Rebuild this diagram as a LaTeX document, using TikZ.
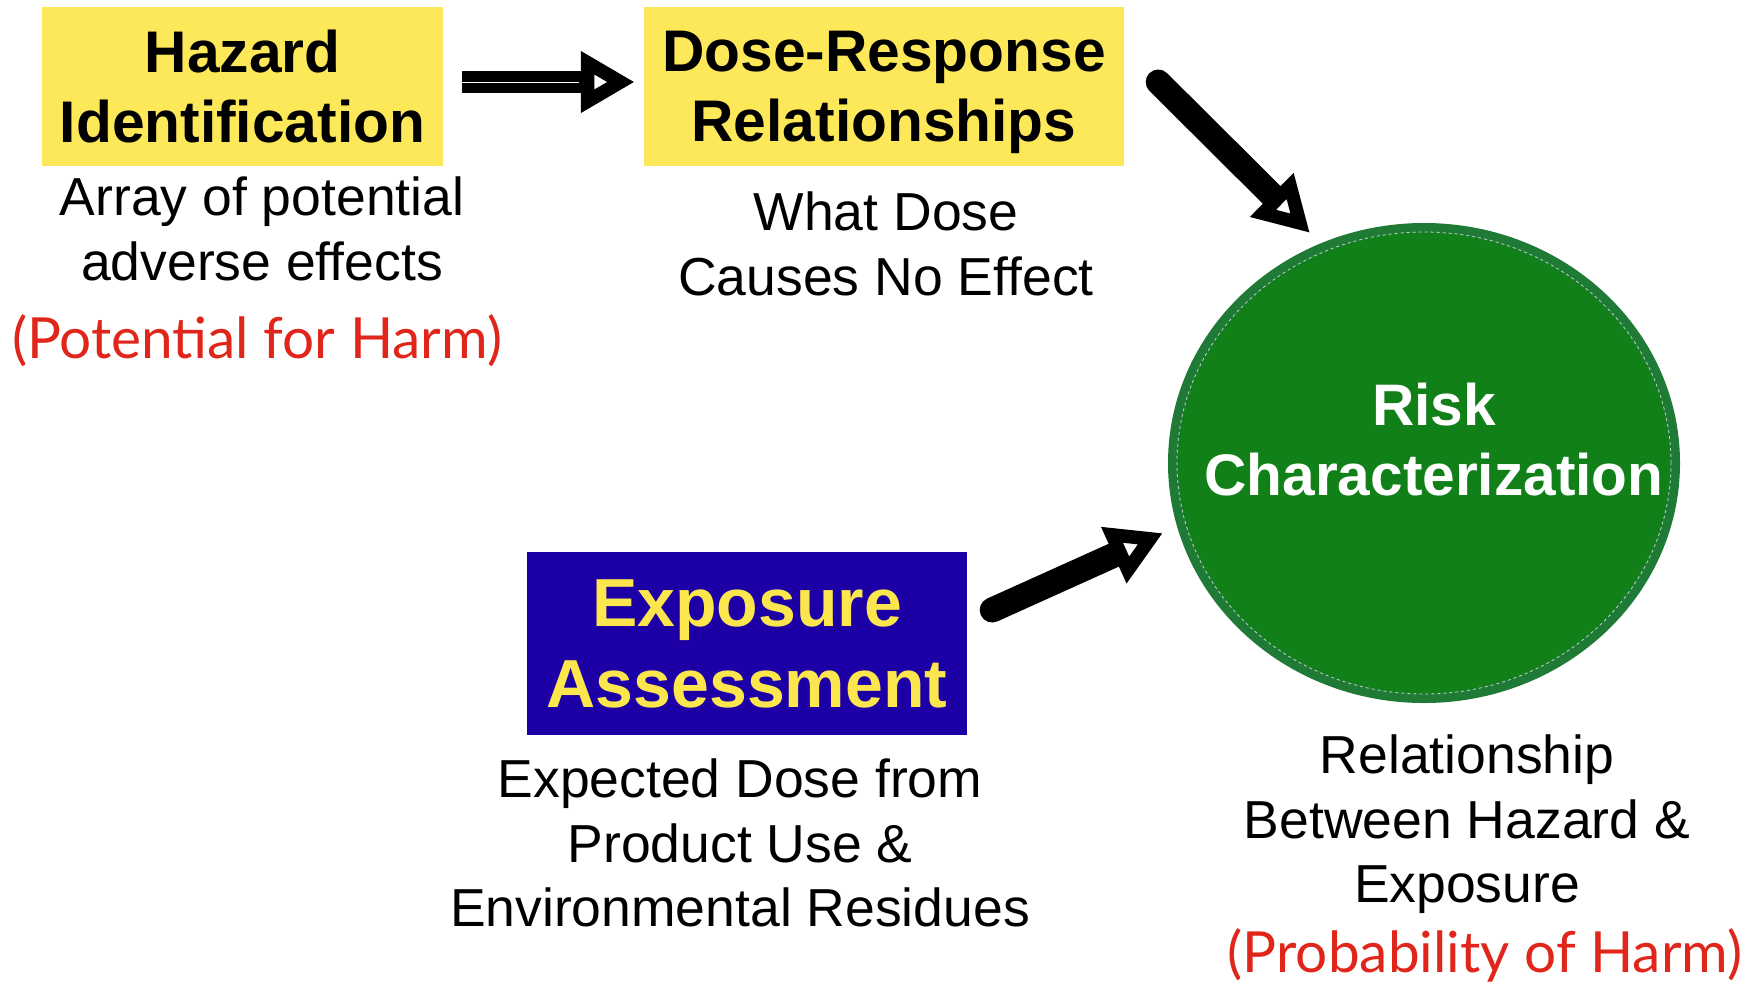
\documentclass[tikz,border=0pt]{standalone}
\usepackage{fontspec}
\setmainfont{Liberation Sans}
\newfontfamily\redfont{Lato}
\usetikzlibrary{arrows.meta,shapes.geometric}
\definecolor{boxyellow}{HTML}{FDE85A}
\definecolor{expblue}{HTML}{1C00A6}
\definecolor{expyellow}{HTML}{FCE64E}
\definecolor{circfill}{HTML}{118019}
\definecolor{circline}{HTML}{1E7A35}
\definecolor{harmred}{HTML}{E0261A}
\begin{document}
\begin{tikzpicture}[x=1pt,y=-1pt,
  ybox/.style={fill=boxyellow, inner sep=0pt, align=center,
    font=\fontsize{58.7}{70}\selectfont\bfseries},
  bbox/.style={fill=expblue, text=expyellow, inner sep=0pt, align=center,
    font=\fontsize{68}{81}\selectfont\bfseries},
  riskc/.style={ellipse, fill=circfill, draw=circline, line width=10pt, inner sep=0pt,
    minimum width=502pt, minimum height=470pt},
  riskinner/.style={draw=white!70!circfill, line width=0.8pt, dashed},
  risktext/.style={text=white, align=center, font=\fontsize{58.6}{70}\selectfont\bfseries},
  desc/.style={align=center, inner sep=0pt, font=\fontsize{53.5}{64.5}\selectfont},
  harm/.style={text=harmred, inner sep=0pt, font=\redfont\fontsize{56.7}{64}\selectfont},
  fatarrow/.style={line width=22pt, -{Triangle[fill=white, length=54pt, width=58pt, line width'=14pt]}},
  roundarrow/.style={fatarrow, line width=25pt, line cap=round},
  shaftline/.style={white, line width=1pt}
]
\useasboundingbox (0,0) rectangle (1758,983);

\node[ybox, minimum width=401pt, minimum height=159pt] (haz) at (242.5,86.5) {Hazard\\Identification};
\node[ybox, minimum width=480pt, minimum height=159pt] (dose) at (884,86.5) {Dose-Response\\\raisebox{0pt}[\height][0pt]{Relationships}};
\node[bbox, minimum width=440pt, minimum height=183pt] (exp) at (747,643.5) {Exposure\\Assessment};
\node[riskc] (risk) at (1424,463) {};
\draw[riskinner] (risk.center) ellipse [x radius=247pt, y radius=231pt];
\node[risktext] (risklabel) at (1434,440) {Risk\\Characterization};

\node[desc] (hazdesc) at (262,229) {Array of potential\\adverse effects};
\node[harm] (hazharm) at (257,341) {(Potential for Harm)};
\node[desc] (dosedesc) at (886,244) {What Dose\\Causes No Effect};
\node[desc] (expdesc) at (740,843) {Expected Dose from\\Product Use \&\\Environmental Residues};
\node[desc] (riskdesc) at (1467,824.5) {Relationship\\Between Hazard \&\\Exposure};
\node[harm] (riskharm) at (1485,955) {(Probability of Harm)};

\draw[fatarrow] ([shift={(19,-4.5)}]haz.east) -- ([shift={(-9,-4.5)}]dose.west);
\draw[shaftline] ([shift={(19,-4.5)}]haz.east) -- ([shift={(-65,-4.5)}]dose.west);
\draw[roundarrow] ([shift={(34,-4.5)}]dose.east) -- ([shift={(-114,-230)}]risk.center);
\draw[roundarrow] ([shift={(25,-33.5)}]exp.east) -- ([shift={(-261,70)}]risk.center);
\end{tikzpicture}
\end{document}
